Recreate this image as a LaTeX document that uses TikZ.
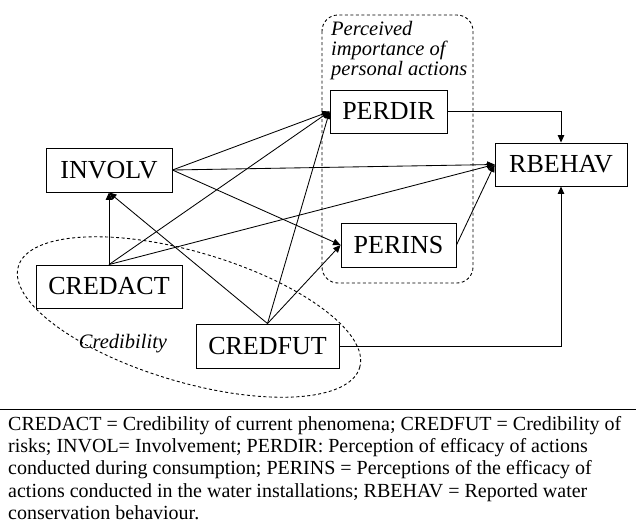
\documentclass[tikz,border=0pt]{standalone}
\usepackage{fontspec}
\setmainfont{Liberation Serif}
\usetikzlibrary{arrows.meta}

\begin{document}
\begin{tikzpicture}[x=1pt,y=-1pt,
  box/.style={draw, line width=0.9pt, inner sep=0pt, font=\fontsize{26}{26}\selectfont},
  arr/.style={line width=0.85pt, -{Triangle[length=7.5pt,width=6.5pt]}},
  grp/.style={line width=0.9pt, dash pattern=on 3pt off 2.5pt},
  lbl/.style={font=\fontsize{20.5}{20}\selectfont\itshape, inner sep=0pt},
  note/.style={font=\fontsize{20}{22.3}\selectfont, inner sep=0pt, align=left}]
\useasboundingbox[fill=white] (0,0) rectangle (636,523);

% construct boxes
\node[box, minimum width=126pt, minimum height=44pt] (involv)  at (109,170)   {INVOLV};
\node[box, minimum width=117pt, minimum height=43pt] (perdir)  at (388.5,111.5) {PERDIR};
\node[box, minimum width=132pt, minimum height=43pt] (rbehav)  at (561,164.5) {RBEHAV};
\node[box, minimum width=115pt, minimum height=44pt] (perins)  at (398.5,245) {PERINS};
\node[box, minimum width=146pt, minimum height=43pt] (credact) at (109,286.5) {CREDACT};
\node[box, minimum width=143pt, minimum height=44pt] (credfut) at (267.5,346) {CREDFUT};

% groupings
\draw[grp, rounded corners=16pt] (322,15) rectangle (473,283);
\node[lbl, anchor=north west, align=left] (pilabel) at (331,21)
  {Perceived\\importance of\\personal actions};
\draw[grp, rotate around={-16.5:(189,317)}] (189,317) ellipse [x radius=178pt, y radius=65pt];
\node[lbl, anchor=base] (credlabel) at (123,348) {Credibility};

% paths
\draw[arr] (involv.east) -- (perdir.west);
\draw[arr] (involv.east) -- (rbehav.west);
\draw[arr] (involv.east) -- (perins.west);
\draw[arr] (credact.north) -- (involv.south);
\draw[arr] (credact.north) -- (perdir.west);
\draw[arr] (credact.north) -- (rbehav.west);
\draw[arr] (credfut.north) -- (involv.south);
\draw[arr] (credfut.north) -- (perdir.west);
\draw[arr] (credfut.north) -- (perins.west);
\draw[arr] (perins.east) -- (rbehav.west);
\draw[arr] (perdir.east) -| (rbehav.north);
\draw[arr] (credfut.east) -| (rbehav.south);

% legend
\coordinate (ruleL) at (0,409);
\coordinate (ruleR) at (636,409);
\draw[line width=0.9pt] (ruleL) -- (ruleR);
\node[note, anchor=north west] (legend) at (8,416)
  {CREDACT = Credibility of current phenomena; CREDFUT = Credibility of\\
   risks; INVOL= Involvement; PERDIR: Perception of efficacy of actions\\
   conducted during consumption; PERINS = Perceptions of the efficacy of\\
   actions conducted in the water installations; RBEHAV = Reported water\\
   conservation behaviour.};
\end{tikzpicture}
\end{document}
